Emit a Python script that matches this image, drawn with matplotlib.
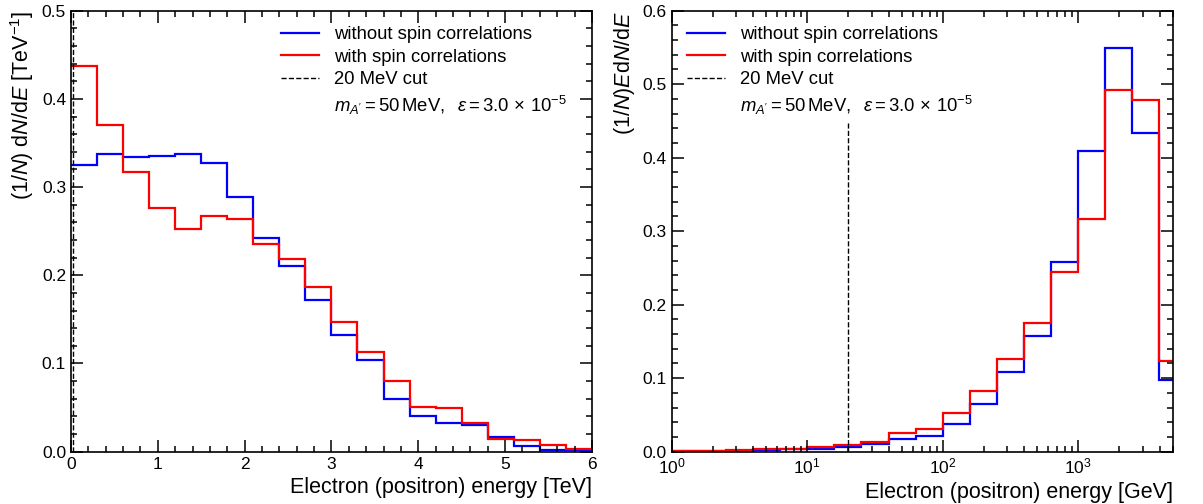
import numpy as np
import matplotlib
matplotlib.use("Agg")
import matplotlib.pyplot as plt
from matplotlib.ticker import MultipleLocator, LogLocator, NullFormatter, FormatStrFormatter
from matplotlib.lines import Line2D

plt.rcParams['font.family'] = ['Liberation Sans', 'DejaVu Sans']
plt.rcParams['mathtext.fontset'] = 'custom'
plt.rcParams['mathtext.rm'] = 'Liberation Sans'
plt.rcParams['mathtext.it'] = 'Liberation Sans:italic'
plt.rcParams['mathtext.bf'] = 'Liberation Sans:bold'

# ---------------- data ----------------
# Left panel: 20 bins of 0.3 TeV from 0 to 6 TeV
left_edges = np.linspace(0, 6, 21)
left_without = [0.325, 0.337, 0.334, 0.335, 0.338, 0.327, 0.289, 0.242, 0.210, 0.172,
                0.132, 0.104, 0.060, 0.041, 0.032, 0.030, 0.017, 0.0068, 0.002, 0.002]
left_with = [0.437, 0.370, 0.317, 0.276, 0.252, 0.267, 0.264, 0.235, 0.219, 0.187,
             0.147, 0.113, 0.080, 0.051, 0.049, 0.032, 0.014, 0.013, 0.0076, 0.003]

# Right panel: log bins, 0.2 decades wide, from 1 GeV
right_edges = 10 ** np.arange(0, 3.81, 0.2)
right_without = [0.0005, 0.001, 0.0015, 0.002, 0.003, 0.004, 0.007, 0.010, 0.017, 0.022,
                 0.037, 0.065, 0.108, 0.158, 0.258, 0.409, 0.549, 0.433, 0.097]
right_with = [0.001, 0.0015, 0.002, 0.003, 0.004, 0.0065, 0.0095, 0.0127, 0.026, 0.031,
              0.053, 0.082, 0.126, 0.175, 0.245, 0.316, 0.492, 0.478, 0.123]

cut_left = 0.02      # TeV
cut_right = 20       # GeV
cut_right_top = 0.447

labels = ["without spin correlations", "with spin correlations", "20 MeV cut",
          r"$m_{A'} = 50\,\mathrm{MeV},\;\ \varepsilon = 3.0\,\times\,10^{-5}$"]

BLUE = (0, 0, 1)
RED = (1, 0, 0)

fig = plt.figure(figsize=(12.03, 5.04), dpi=100)
axL = fig.add_axes([0.059, 0.1038, 0.433, 0.875])
axR = fig.add_axes([0.5584, 0.1038, 0.4167, 0.875])


def style(ax):
    ax.tick_params(which='both', direction='in', top=True, right=True, labelsize=12.5)
    ax.tick_params(which='major', length=8.6, width=1.1)
    ax.tick_params(which='minor', length=4.3, width=1.1)
    for s in ax.spines.values():
        s.set_linewidth(1.2)


def legend(ax, anchor):
    handles = [Line2D([], [], color=BLUE, lw=1.6),
               Line2D([], [], color=RED, lw=1.6),
               Line2D([], [], color='black', lw=1.0, ls='--'),
               Line2D([], [], color='none')]
    ax.legend(handles, labels, loc='upper left', bbox_to_anchor=anchor, frameon=False,
              fontsize=13.3, handlelength=2.05, handletextpad=0.8, labelspacing=0.3,
              borderaxespad=0.45)


# Left
axL.stairs(left_without, left_edges, baseline=None, color=BLUE, lw=1.6)
axL.stairs(left_with, left_edges, baseline=None, color=RED, lw=1.6)
axL.axvline(cut_left, color='black', lw=1.0, ls='--')
axL.set_xlim(0, 6)
axL.set_ylim(0, 0.5)
axL.xaxis.set_major_locator(MultipleLocator(1))
axL.xaxis.set_minor_locator(MultipleLocator(0.2))
axL.yaxis.set_major_locator(MultipleLocator(0.1))
axL.yaxis.set_minor_locator(MultipleLocator(0.02))
axL.yaxis.set_major_formatter(FormatStrFormatter('%.1f'))
style(axL)
axL.set_xlabel("Electron (positron) energy [TeV]", fontsize=15.5, loc='right')
axL.set_ylabel(r"(1/$N$) d$N$/d$E$ [TeV$^{-1}$]", fontsize=15.5, loc='top')
legend(axL, (0.3737, 1.0))

# Right
axR.stairs(right_without, right_edges, baseline=None, color=BLUE, lw=1.6)
axR.stairs(right_with, right_edges, baseline=None, color=RED, lw=1.6)
axR.plot([cut_right, cut_right], [0, cut_right_top], color='black', lw=1.0, ls='--')
axR.set_xscale('log')
axR.set_xlim(1, 10 ** 3.7)
axR.set_ylim(0, 0.6)
axR.xaxis.set_major_locator(LogLocator(base=10, numticks=10))
axR.xaxis.set_minor_locator(LogLocator(base=10, subs=np.arange(2, 10), numticks=20))
axR.xaxis.set_minor_formatter(NullFormatter())
axR.yaxis.set_major_locator(MultipleLocator(0.1))
axR.yaxis.set_minor_locator(MultipleLocator(0.02))
axR.yaxis.set_major_formatter(FormatStrFormatter('%.1f'))
style(axR)
axR.set_xlabel("Electron (positron) energy [GeV]", fontsize=15.5, loc='right')
axR.set_ylabel(r"(1/$N$)$E$d$N$/d$E$", fontsize=15.5, loc='top')
legend(axR, (0.0, 1.0))

fig.savefig("out.png", dpi=100)
